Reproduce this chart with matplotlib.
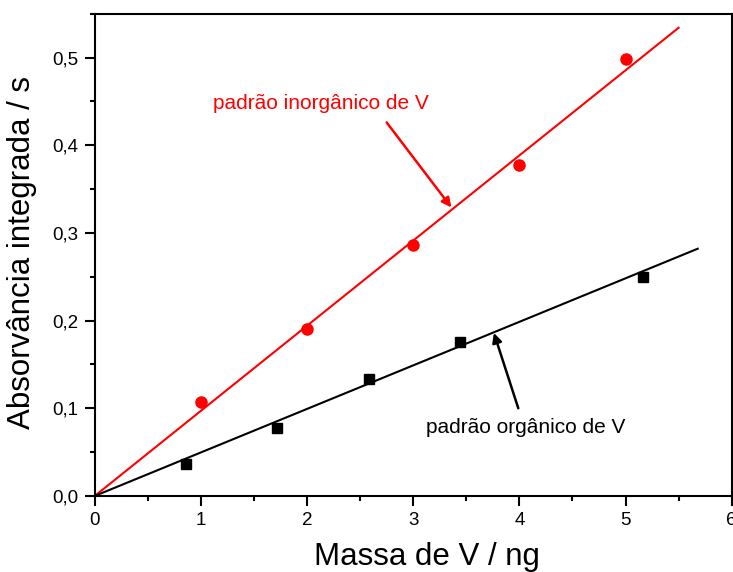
import matplotlib
matplotlib.use("Agg")
import matplotlib.pyplot as plt
from matplotlib.ticker import MultipleLocator, FuncFormatter

plt.rcParams['font.family'] = ['Liberation Sans', 'DejaVu Sans']

# Inorganic vanadium standard (red circles)
mass_inorg = [1, 2, 3, 4, 5]
abs_inorg = [0.107, 0.191, 0.286, 0.378, 0.498]
fit_inorg_x = [0.0, 5.5]
fit_inorg_y = [0.0, 0.534]

# Organic vanadium standard (black squares)
mass_org = [0.86, 1.72, 2.58, 3.44, 5.16]
abs_org = [0.037, 0.077, 0.133, 0.176, 0.250]
fit_org_x = [0.0, 5.68]
fit_org_y = [0.0, 0.282]

label_inorg = "padrão inorgânico de V"
label_org = "padrão orgânico de V"

fig = plt.figure(figsize=(7.33, 5.72), dpi=100)
ax = fig.add_axes([0.1292, 0.1329, 0.8690, 0.8431])

ax.plot(fit_inorg_x, fit_inorg_y, color='#ff0000', lw=1.5, zorder=2)
ax.plot(mass_inorg, abs_inorg, 'o', color='#ff0000', ms=8, zorder=3)
ax.plot(fit_org_x, fit_org_y, color='black', lw=1.5, zorder=2)
ax.plot(mass_org, abs_org, 's', color='black', ms=7, zorder=3)

ax.set_xlim(0, 6)
ax.set_ylim(0, 0.55)
ax.xaxis.set_major_locator(MultipleLocator(1))
ax.xaxis.set_minor_locator(MultipleLocator(0.5))
ax.yaxis.set_major_locator(MultipleLocator(0.1))
ax.yaxis.set_minor_locator(MultipleLocator(0.05))
ax.yaxis.set_major_formatter(FuncFormatter(lambda v, p: f"{v:.1f}".replace('.', ',')))
ax.xaxis.set_major_formatter(FuncFormatter(lambda v, p: f"{v:.0f}"))

ax.tick_params(which='major', direction='out', length=7.5, width=1.5, labelsize=13.5, pad=4)
ax.tick_params(which='minor', direction='out', length=3.5, width=1.5)
for s in ax.spines.values():
    s.set_linewidth(1.5)

ax.set_xlabel("Massa de V / ng", fontsize=22.5)
ax.set_ylabel("Absorvância integrada / s", fontsize=22.5)
ax.xaxis.set_label_coords(0.522, -0.095)
ax.yaxis.set_label_coords(-0.09, 0.505)

# Arrows pointing from the captions to their fitted lines
ax.annotate("", xy=(3.36, 0.329), xytext=(2.75, 0.426),
            arrowprops=dict(arrowstyle='-|>', color='#ff0000', lw=1.8,
                            mutation_scale=14, shrinkA=0, shrinkB=0))
ax.text(1.11, 0.448, label_inorg, color='#ff0000', fontsize=15, va='center', ha='left')

ax.annotate("", xy=(3.76, 0.186), xytext=(3.99, 0.100),
            arrowprops=dict(arrowstyle='-|>', color='black', lw=1.8,
                            mutation_scale=14, shrinkA=0, shrinkB=0))
ax.text(3.12, 0.0786, label_org, color='black', fontsize=15, va='center', ha='left')

fig.savefig("out.png", dpi=100)
